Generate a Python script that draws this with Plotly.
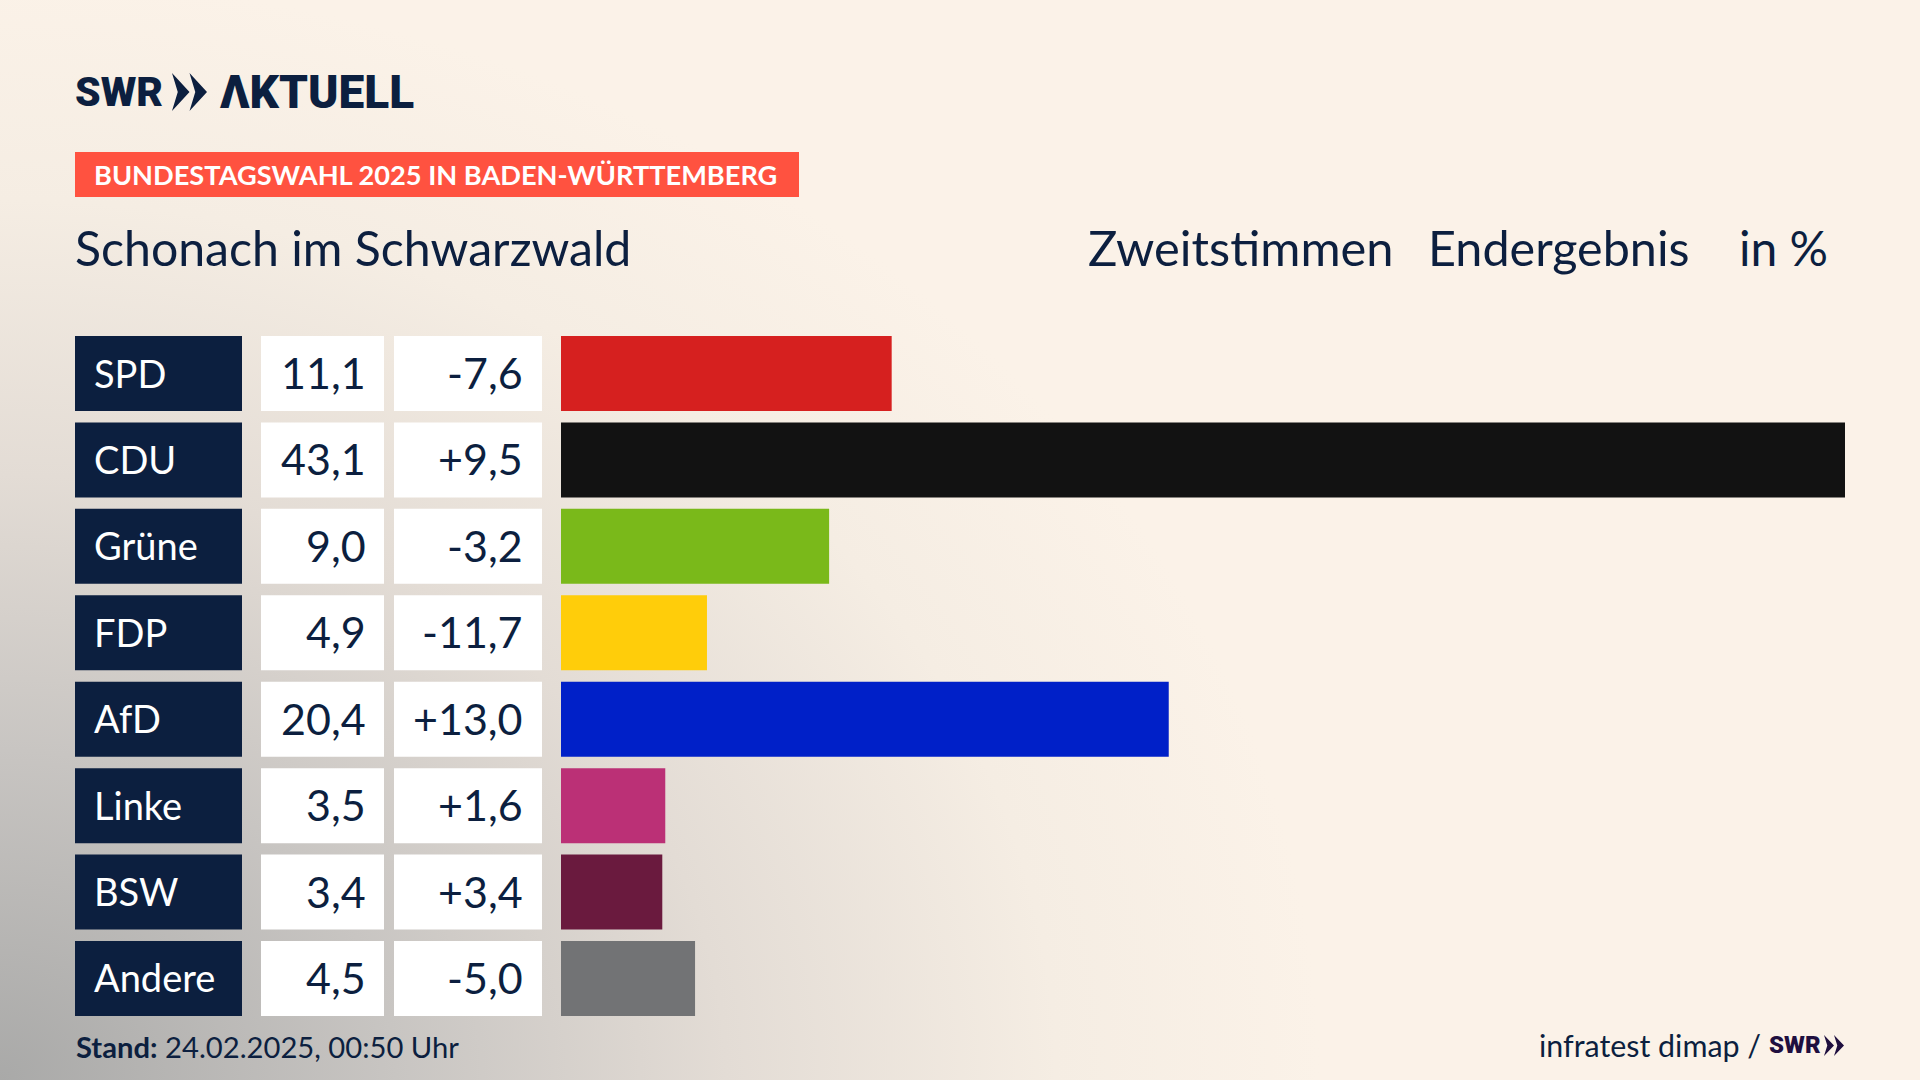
import base64
import plotly.graph_objects as go

W, H = 1920, 1080
FONT = "Lato"
LOGO_FONT = "Roboto"
NAVY = "#0c1f3f"

parties = ["SPD", "CDU", "Grüne", "FDP", "AfD", "Linke", "BSW", "Andere"]
shares = [11.1, 43.1, 9.0, 4.9, 20.4, 3.5, 3.4, 4.5]
diffs = ["-7,6", "+9,5", "-3,2", "-11,7", "+13,0", "+1,6", "+3,4", "-5,0"]
share_labels = ["11,1", "43,1", "9,0", "4,9", "20,4", "3,5", "3,4", "4,5"]
bar_colors = ["#d6201f", "#121212", "#7ab91a", "#ffcd0a", "#0020c8", "#bb3076", "#6a1a3e", "#727375"]


def px(x):
    return x / W


def py(y):
    return 1 - y / H


def text(x, y, s, size, color=NAVY, anchor="left", weight=None, family=FONT):
    return dict(xref="paper", yref="paper", x=px(x), y=py(y), text=s, showarrow=False,
                xanchor=anchor, yanchor="middle",
                font=dict(family=family, size=size, color=color, weight=weight))


def chevrons(x0, x1, y0, y1, color):
    # zwei Pfeile vom SWR-Logo
    w = (x1 - x0) * 0.5
    mid = (y0 + y1) / 2
    out = []
    for ox in (x0, x0 + w):
        pts = [(ox, y0), (ox + w, mid), (ox, y1), (ox + w * 0.33, mid)]
        path = "M " + " L ".join(f"{px(a):.5f},{py(b):.5f}" for a, b in pts) + " Z"
        out.append(dict(type="path", xref="paper", yref="paper", path=path,
                        fillcolor=color, line_width=0))
    return out


# Hintergrund mit Verlauf von unten links
svg = f"""<svg xmlns="http://www.w3.org/2000/svg" width="{W}" height="{H}">
<defs><radialGradient id="g" gradientUnits="userSpaceOnUse" cx="0" cy="0" r="1"
gradientTransform="translate(0 {H}) scale(1320 1100)">
<stop offset="0" stop-color="#a9a9a8"/><stop offset="0.3" stop-color="#c8c5c2"/>
<stop offset="0.55" stop-color="#e3dcd5"/><stop offset="0.8" stop-color="#f5ede3"/>
<stop offset="1" stop-color="#fbf2e8"/></radialGradient></defs>
<rect width="{W}" height="{H}" fill="url(#g)"/></svg>"""
bg = "data:image/svg+xml;base64," + base64.b64encode(svg.encode()).decode()

fig = go.Figure()

# Zellen und Balken teilen sich die y-Achse
cells = [("x", "#0c1f3f"), ("x2", "#ffffff"), ("x3", "#ffffff")]
for ax, color in cells:
    fig.add_trace(go.Bar(y=parties, x=[1] * len(parties), orientation="h", xaxis=ax, yaxis="y",
                         width=0.868, marker=dict(color=color, line_width=0), hoverinfo="skip"))
fig.add_trace(go.Bar(y=parties, x=shares, orientation="h", xaxis="x4", yaxis="y",
                     width=0.868, marker=dict(color=bar_colors, line_width=0), hoverinfo="skip"))

annotations = []
for i, p in enumerate(parties):
    annotations.append(dict(xref="x domain", yref="y", x=0, y=p, xshift=17, yshift=1, text=p, showarrow=False,
                            xanchor="left", font=dict(family=FONT, size=38, color="#ffffff")))
    annotations.append(dict(xref="x2 domain", yref="y", x=1, y=p, xshift=-16, yshift=1, text=share_labels[i],
                            showarrow=False, xanchor="right", font=dict(family=FONT, size=43, color=NAVY)))
    annotations.append(dict(xref="x3 domain", yref="y", x=1, y=p, xshift=-17, yshift=1, text=diffs[i],
                            showarrow=False, xanchor="right", font=dict(family=FONT, size=43, color=NAVY)))

annotations += [
    text(73, 92, "SWR", 41, weight=900, family=LOGO_FONT),
    text(218, 92, "ΛKTUELL", 46, weight=900, family=LOGO_FONT),
    text(92, 175, "BUNDESTAGSWAHL 2025 IN BADEN-WÜRTTEMBERG", 27.2, color="#ffffff", weight=700),
    text(73, 247, "Schonach im Schwarzwald", 48.2),
    text(1086, 247, "Zweitstimmen", 48.8),
    text(1426, 247, "Endergebnis", 48.5),
    text(1737, 247, "in %", 48),
    text(74, 1046, "<b>Stand:</b> 24.02.2025, 00:50 Uhr", 29.2),
    text(1537, 1045, "infratest dimap /", 30.4),
    text(1767, 1045, "SWR", 24, color="#1f0f3f", weight=900, family=LOGO_FONT),
]

shapes = [dict(type="rect", xref="paper", yref="paper", x0=px(75), x1=px(799), y0=py(197), y1=py(152),
               fillcolor="#ff5240", line_width=0)]
shapes += chevrons(172, 207, 73, 111, NAVY)
shapes += chevrons(1824, 1844, 1035, 1056, "#1f0f3f")


def x_axis(left, right, rng):
    return dict(domain=[px(left), px(right)], range=rng, visible=False, anchor="y", fixedrange=True)


fig.update_layout(
    width=W, height=H,
    margin=dict(l=0, r=0, t=0, b=0),
    paper_bgcolor="#fbf2e8",
    plot_bgcolor="rgba(0,0,0,0)",
    showlegend=False,
    xaxis=x_axis(75, 242, [0, 1]),
    xaxis2=x_axis(261, 384, [0, 1]),
    xaxis3=x_axis(394, 542, [0, 1]),
    xaxis4=x_axis(561, 1845, [0, 43.1]),
    yaxis=dict(domain=[py(1021.7), py(330.3)], range=[7.5, -0.5], visible=False, type="category",
               categoryorder="array", categoryarray=parties, fixedrange=True),
    annotations=annotations,
    shapes=shapes,
    images=[dict(source=bg, xref="paper", yref="paper", x=0, y=1, sizex=1, sizey=1,
                 sizing="stretch", xanchor="left", yanchor="top", layer="below")],
)

fig.write_html("out.html", config=dict(displayModeBar=False),
               post_script="document.body.style.margin='0';")
